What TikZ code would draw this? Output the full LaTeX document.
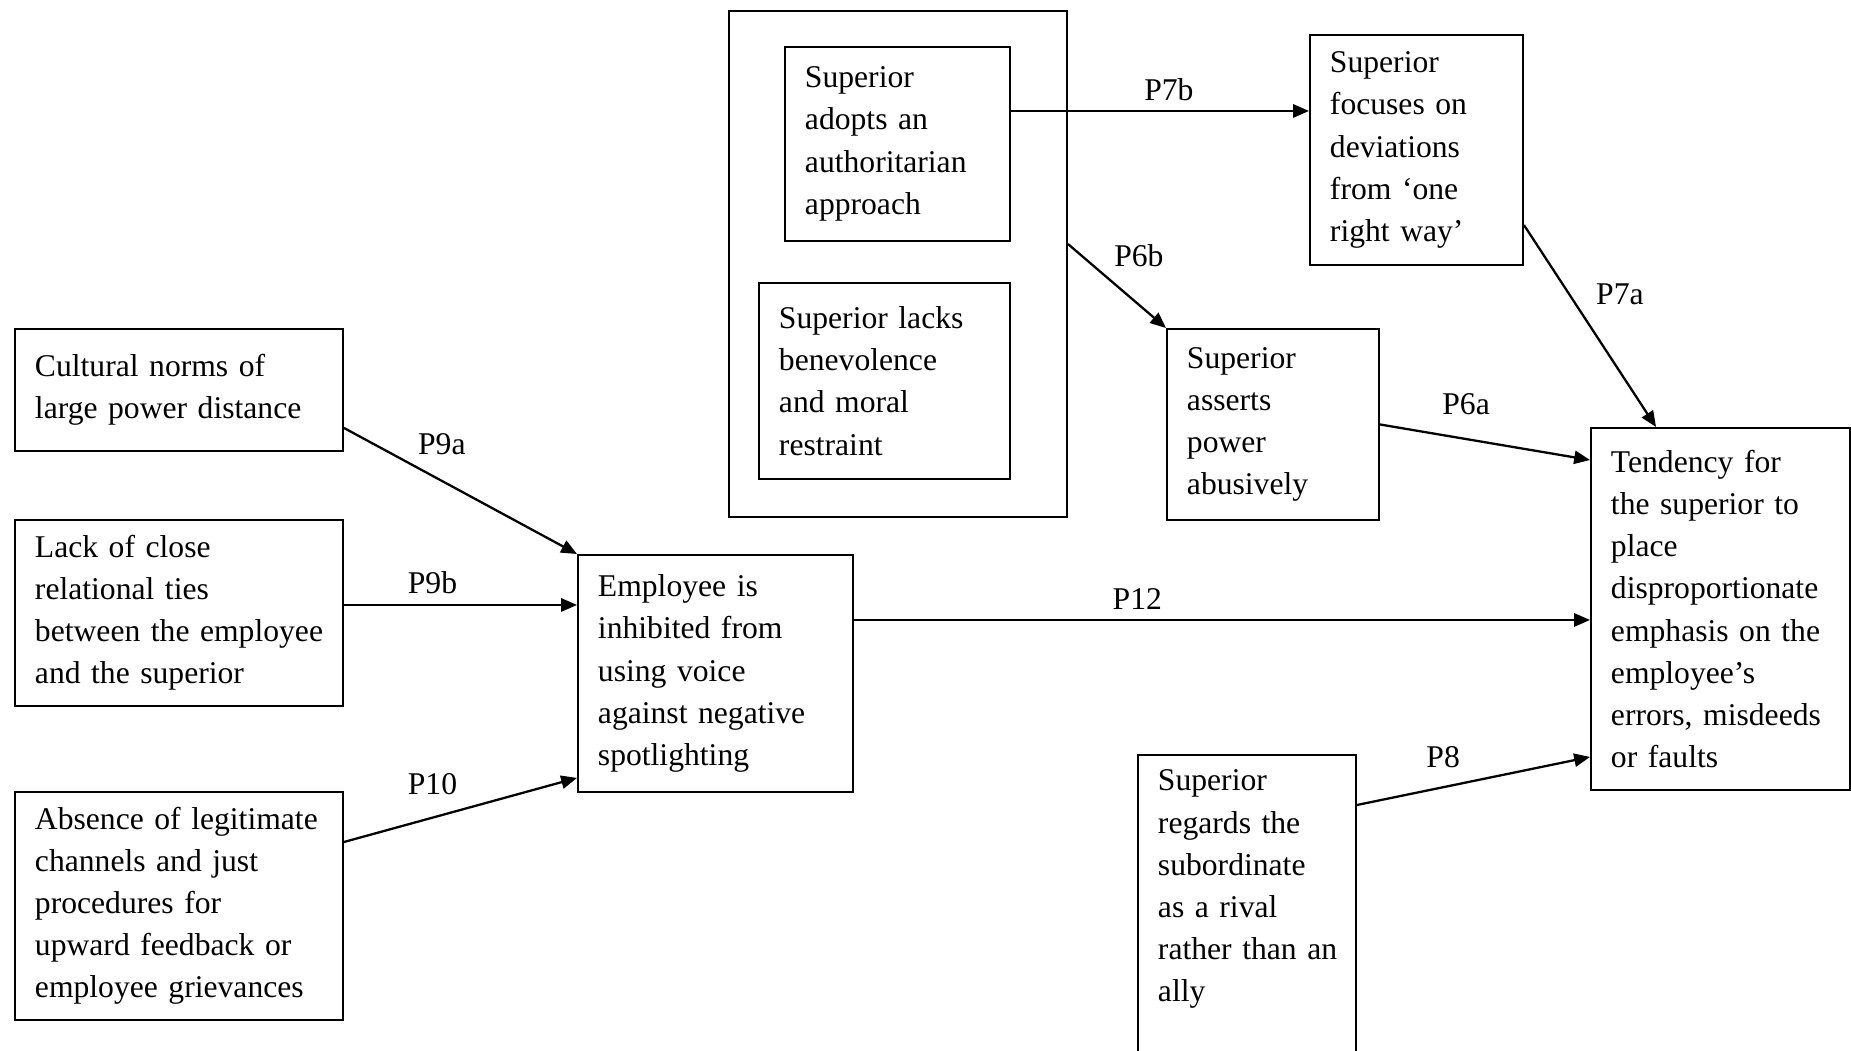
\documentclass[tikz,border=0pt]{standalone}
\usepackage{fontspec}
\setmainfont{Liberation Serif}
\usetikzlibrary{arrows.meta, positioning}
\hyphenpenalty=10000
\exhyphenpenalty=10000

\tikzset{
	box/.style={draw, line width=1.1pt, anchor=north west, align=left, inner xsep=0.4cm, inner ysep=0.3cm, font=\fontsize{18}{24}\selectfont},
	frame/.style={draw, line width=1.1pt, anchor=north west, inner sep=0pt},
	arr/.style={-{Triangle[length=9pt,width=7.5pt]}, line width=1.3pt},
	plab/.style={inner sep=2pt, font=\fontsize{18}{22}\selectfont},
}

\begin{document}
\begin{tikzpicture}
			\useasboundingbox (0,0) rectangle (37.02,21);
			\clip (0,0) rectangle (37.02,21);
			
			% 上方: superior group
			\node[frame, minimum width=6.76cm, minimum height=10.12cm] (grp) at (14.56,20.8) {};
			\node[box, text width=3.7cm, minimum height=3.88cm] (auth) at (15.68,20.08)
				{Superior\\adopts an\\authoritarian\\approach};
			\node[box, text width=4.22cm, minimum height=3.92cm] (lacks) at (15.16,15.36)
				{Superior lacks\\benevolence\\and moral\\restraint};
			\node[box, text width=3.46cm, minimum height=4.6cm] (focus) at (26.18,20.32)
				{Superior\\focuses on\\deviations\\from ‘one\\right way’};
			\node[box, text width=3.44cm, minimum height=3.82cm] (asserts) at (23.32,14.44)
				{Superior\\asserts\\power\\abusively};
			\node[box, text width=4.38cm, minimum height=7.24cm] (tend) at (31.8,12.46)
				{Tendency for\\the superior to\\place\\disproportionate\\emphasis on the\\employee’s\\errors, misdeeds\\or faults};
			\node[box, text width=3.56cm] (rival) at (22.74,5.92)
				{Superior\\regards the\\subordinate\\as a rival\\rather~than~an\\ally\\[2cm]~};
			
			% 左边: antecedents of inhibited voice
			\node[box, text width=5.76cm, minimum height=2.44cm] (cult) at (0.28,14.44)
				{Cultural norms of\\large~power~distance};
			\node[box, text width=5.76cm, minimum height=3.72cm] (lackc) at (0.28,10.62)
				{Lack of close\\relational ties\\between~the~employee\\and the superior};
			\node[box, text width=5.76cm, minimum height=4.54cm] (absence) at (0.28,5.18)
				{Absence~of~legitimate\\channels and just\\procedures for\\upward feedback or\\employee~grievances};
			\node[box, text width=4.7cm, minimum height=4.74cm] (empl) at (11.54,9.92)
				{Employee is\\inhibited from\\using voice\\against~negative\\spotlighting};
			
			% arrows
			\draw[arr] ([yshift=0.66cm]auth.east) -- ([yshift=0.66cm]auth.east -| focus.west)
				node[plab, pos=0.53, above=0.11cm] {P7b};
			\draw[arr] ([yshift=0.4cm]grp.east) -- (asserts.north west)
				node[plab, pos=0.14, right=0.56cm] {P6b};
			\draw[arr] ([yshift=-1.5cm]focus.east) -- ([xshift=1.32cm]tend.north west)
				node[plab, pos=0.345, right=0.44cm] {P7a};
			\draw[arr] (asserts.east) -- ([yshift=-0.66cm]tend.north west)
				node[plab, pos=0.41, above=0.4cm] {P6a};
			\draw[arr] ([yshift=1.07cm]empl.east) -- ([yshift=1.07cm]empl.east -| tend.west)
				node[plab, pos=0.385, above=0.12cm] {P12};
			\draw[arr] ([yshift=-1.02cm]rival.north east) -- ([yshift=0.68cm]tend.south west)
				node[plab, pos=0.37, above=0.29cm] {P8};
			\draw[arr] ([yshift=0.48cm]cult.south east) -- (empl.north west)
				node[plab, pos=0.42, above=0.43cm] {P9a};
			\draw[arr] ([yshift=0.16cm]lackc.east) -- ([yshift=0.16cm]lackc.east -| empl.west)
				node[plab, pos=0.38, above=0.13cm] {P9b};
			\draw[arr] ([yshift=-1.02cm]absence.north east) -- ([yshift=0.3cm]empl.south west)
				node[plab, pos=0.38, above=0.37cm] {P10};
\end{tikzpicture}
\end{document}
